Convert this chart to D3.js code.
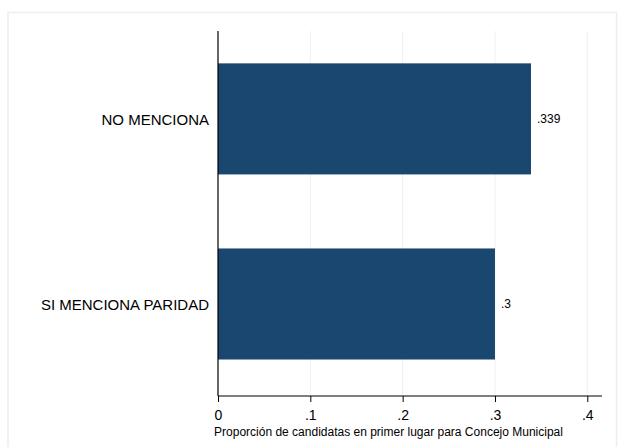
<!DOCTYPE html>
<html>
<head>
<meta charset="utf-8">
<script src="https://cdn.jsdelivr.net/npm/d3@7"></script>
<style>
  html, body { margin: 0; padding: 0; background: #ffffff; }
  svg { display: block; font-family: "Liberation Sans", Arial, sans-serif; }
</style>
</head>
<body>
<svg id="chart" width="618" height="447"></svg>
<script>
const categories = ["NO MENCIONA", "SI MENCIONA PARIDAD"];
const values = [0.339, 0.3];
const valueLabels = [".339", ".3"];
const tickValues = [0, 0.1, 0.2, 0.3, 0.4];
const tickLabels = ["0", ".1", ".2", ".3", ".4"];
const xTitle = "Proporción de candidatas en primer lugar para Concejo Municipal";

(function () {
const svg = d3.select("#chart");
const W = 618, H = 447;
const pLeft = 218, pRight = 602, pTop = 31, pBottom = 396;

svg.append("rect").attr("width", W).attr("height", H).attr("fill", "#ffffff");
// outer frame
svg.append("rect")
  .attr("x", 8).attr("y", 12.5).attr("width", 608.5).attr("height", 460)
  .attr("fill", "none").attr("stroke", "#e6eff1").attr("stroke-width", 1.5);

const x = d3.scaleLinear().domain([0, 0.4]).range([pLeft, 587.3]);
const y = d3.scaleBand().domain(categories).range([pTop, pBottom])
  .paddingInner(0.4).paddingOuter(0.186).align(0.47);

// gridlines
svg.append("g").selectAll("line").data(tickValues.slice(1)).join("line")
  .attr("x1", d => x(d)).attr("x2", d => x(d))
  .attr("y1", pTop).attr("y2", pBottom)
  .attr("stroke", "#eaf2f3").attr("stroke-width", 1);

// bars
svg.append("g").selectAll("rect").data(values).join("rect")
  .attr("x", x(0))
  .attr("y", (d, i) => y(categories[i]))
  .attr("width", d => x(d) - x(0))
  .attr("height", y.bandwidth())
  .attr("fill", "#1a476f");

// value labels
svg.append("g").selectAll("text").data(values).join("text")
  .attr("x", d => x(d) + 6)
  .attr("y", (d, i) => y(categories[i]) + y.bandwidth() / 2 + 4)
  .attr("font-size", 12)
  .attr("fill", "#000")
  .text((d, i) => valueLabels[i]);

// y axis (category labels)
const yAxis = svg.append("g").attr("transform", `translate(${pLeft},0)`)
  .call(d3.axisLeft(y).tickSize(0).tickPadding(9));
yAxis.select(".domain").remove();
yAxis.selectAll("text").attr("font-size", 15).attr("fill", "#000")
  .attr("font-family", '"Liberation Sans", Arial, sans-serif')
  .attr("dy", "0.4em");

svg.append("line").attr("x1", pLeft).attr("x2", pLeft)
  .attr("y1", pTop).attr("y2", pBottom).attr("stroke", "#000").attr("stroke-width", 1.2);

// x axis
const xAxis = svg.append("g").attr("transform", `translate(0,${pBottom})`)
  .call(d3.axisBottom(x).tickValues(tickValues)
    .tickFormat((d, i) => tickLabels[i]).tickSize(6).tickSizeOuter(0).tickPadding(8));
xAxis.select(".domain").remove();
xAxis.selectAll(".tick line").attr("stroke", "#000");
xAxis.selectAll("text").attr("font-size", 14).attr("fill", "#000")
  .attr("font-family", '"Liberation Sans", Arial, sans-serif');

svg.append("line").attr("x1", pLeft).attr("x2", pRight)
  .attr("y1", pBottom).attr("y2", pBottom).attr("stroke", "#000").attr("stroke-width", 1.2);

svg.append("text")
  .attr("x", 388.5).attr("y", 436)
  .attr("text-anchor", "middle")
  .attr("font-size", 12).attr("fill", "#000")
  .text(xTitle);
})();
</script>
</body>
</html>
